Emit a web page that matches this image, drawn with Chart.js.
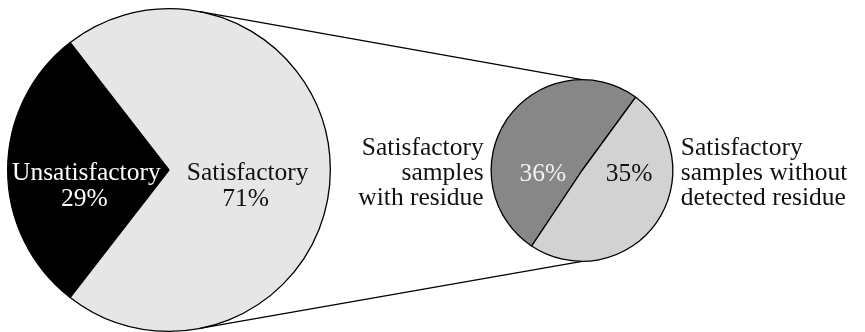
<!DOCTYPE html>
<html>
<head>
<meta charset="utf-8">
<title>Sample compliance</title>
<script src="https://cdn.jsdelivr.net/npm/chart.js@4.4.1/dist/chart.umd.min.js"></script>
<style>
  html, body { margin: 0; padding: 0; background: #ffffff; }
  #wrap { position: relative; width: 865px; height: 332px; }
  #wrap canvas { position: absolute; left: 0; top: 0; }
</style>
</head>
<body>
<div id="wrap">
  <canvas id="overall" width="865" height="332"></canvas>
  <canvas id="detail" width="865" height="332"></canvas>
</div>
<script>
// Overall result of the samples
const overallLabels = ['Unsatisfactory', 'Satisfactory'];
const overallValues = [29, 71];
const overallColors = ['#000000', '#e6e6e6'];
const overallTextColors = ['#ffffff', '#111111'];

// Breakdown of the satisfactory share
const detailLabels = ['Satisfactory samples with residue', 'Satisfactory samples without detected residue'];
const detailValues = [36, 35];
const detailColors = ['#878787', '#d2d2d2'];
const detailTextColors = ['#f2f2f2', '#111111'];
const detailSideText = [
  ['Satisfactory', 'samples', 'with residue'],
  ['Satisfactory', 'samples without', 'detected residue']
];

const FONT = '25.5px "Liberation Serif", "Times New Roman", serif';

function pct(v) { return v + '%'; }

// Labels inside the big pie: name on one line, share below it
const overallLabelPlugin = {
  id: 'overallLabels',
  afterDatasetsDraw(chart) {
    const ctx = chart.ctx;
    const arcs = chart.getDatasetMeta(0).data;
    ctx.save();
    ctx.font = FONT;
    ctx.textAlign = 'center';
    ctx.textBaseline = 'alphabetic';
    arcs.forEach((arc, i) => {
      const c = arc.getCenterPoint();
      const x = c.x - 2;
      ctx.fillStyle = overallTextColors[i];
      ctx.fillText(overallLabels[i], x, arc.y + 10);
      ctx.fillText(pct(overallValues[i]), x - 2, arc.y + 36);
    });
    ctx.restore();
  }
};

// Connectors from the big pie to the small one, plus all labels of the small pie
const detailLabelPlugin = {
  id: 'detailLabels',
  afterDatasetsDraw(chart) {
    const ctx = chart.ctx;
    const small = chart.getDatasetMeta(0).data[0];
    const bigChart = Chart.getChart('overall');
    const big = bigChart.getDatasetMeta(0).data[0];
    const sx = small.x, sy = small.y, sr = small.outerRadius;
    const bx = big.x, by = big.y, br = big.outerRadius;
    const a = 79 * Math.PI / 180;

    ctx.save();
    ctx.strokeStyle = '#000000';
    ctx.lineWidth = 1.3;
    ctx.beginPath();
    ctx.moveTo(bx + br * Math.cos(-a), by + br * Math.sin(-a));
    ctx.lineTo(sx, sy - sr);
    ctx.moveTo(bx + br * Math.cos(a), by + br * Math.sin(a));
    ctx.lineTo(sx, sy + sr);
    ctx.stroke();

    ctx.font = FONT;
    ctx.textBaseline = 'alphabetic';
    ctx.textAlign = 'center';
    const offs = [-0.43, 0.52];
    detailValues.forEach((v, i) => {
      ctx.fillStyle = detailTextColors[i];
      ctx.fillText(pct(v), sx + offs[i] * sr, sy + 10);
    });

    ctx.fillStyle = '#111111';
    const lineY = [-16, 9, 34];
    ctx.textAlign = 'right';
    detailSideText[0].forEach((t, k) => ctx.fillText(t, sx - sr - 7.5, sy + lineY[k]));
    ctx.textAlign = 'left';
    detailSideText[1].forEach((t, k) => ctx.fillText(t, sx + sr + 8, sy + lineY[k]));
    ctx.restore();
  }
};

const common = {
  responsive: false,
  animation: false,
  events: [],
  plugins: { legend: { display: false }, tooltip: { enabled: false } }
};

new Chart(document.getElementById('overall'), {
  type: 'pie',
  data: {
    labels: overallLabels,
    datasets: [{
      data: overallValues,
      backgroundColor: overallColors,
      borderColor: '#000000',
      borderWidth: 1.3,
      borderAlign: 'center'
    }]
  },
  options: Object.assign({}, common, {
    rotation: 217.8,
    layout: { padding: { left: 7, right: 534, top: 8, bottom: 0 } }
  }),
  plugins: [overallLabelPlugin]
});

new Chart(document.getElementById('detail'), {
  type: 'pie',
  data: {
    labels: detailLabels,
    datasets: [{
      data: detailValues,
      backgroundColor: detailColors,
      borderColor: '#000000',
      borderWidth: 1.3,
      borderAlign: 'center'
    }]
  },
  options: Object.assign({}, common, {
    rotation: 213.7,
    layout: { padding: { left: 490, right: 191, top: 79, bottom: 70 } }
  }),
  plugins: [detailLabelPlugin]
});
</script>
</body>
</html>
